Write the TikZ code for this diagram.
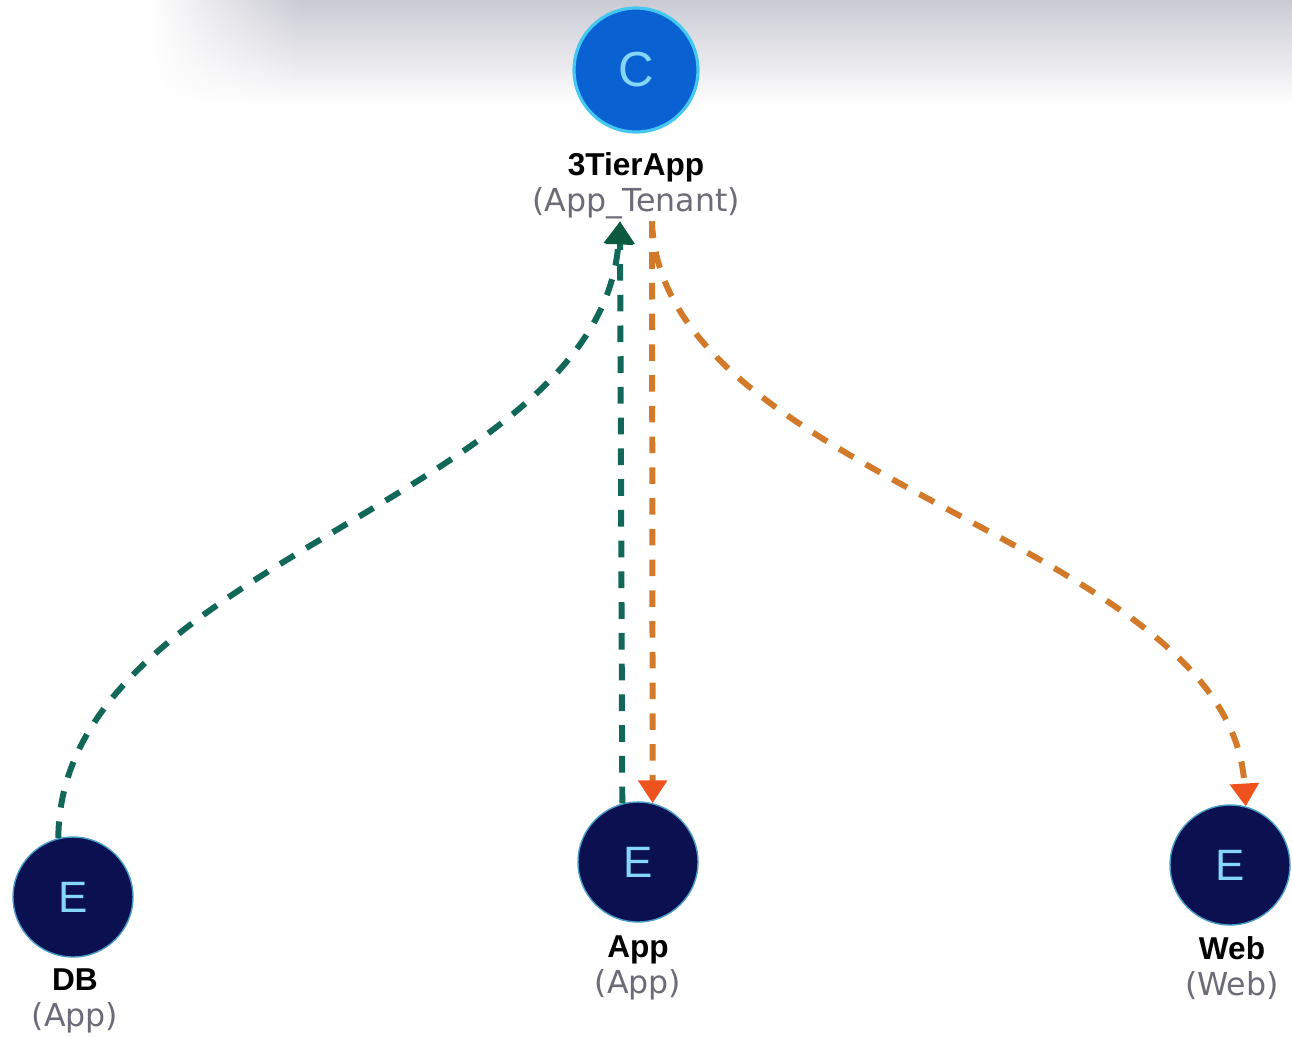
\documentclass[tikz,border=0pt]{standalone}
\usepackage{fontspec}
\setmainfont{Liberation Sans}
\newfontfamily\subfont{DejaVu Sans}
\usetikzlibrary{arrows.meta,fadings}
\definecolor{bandgray}{HTML}{CACAD4}
\definecolor{cblue}{HTML}{0A62D2}
\definecolor{cglow}{HTML}{44C8F2}
\definecolor{enavy}{HTML}{0B1050}
\definecolor{eglow}{HTML}{4A9CC8}
\definecolor{letter}{HTML}{86D6F8}
\definecolor{lblgray}{HTML}{6C6C78}
\definecolor{tealline}{HTML}{126858}
\definecolor{tealtip}{HTML}{0C5A40}
\definecolor{orangeline}{HTML}{D27A2A}
\definecolor{orangetip}{HTML}{F0521E}

\begin{document}
\begin{tikzpicture}
          [x=0.02cm,y=-0.02cm,
           ctr/.style={circle,fill=cblue,draw=cglow,line width=1.8pt,minimum size=2.48cm,text=letter,font=\fontsize{28}{28}\selectfont},
           epg/.style={circle,fill=enavy,draw=eglow,line width=0.8pt,minimum size=2.4cm,text=letter,font=\fontsize{25}{25}\selectfont},
           lbl/.style={align=center,inner sep=1pt,font=\fontsize{18}{20.5}\selectfont},
           tealdash/.style={draw=tealline,line width=3.4pt,dash pattern=on 9.5pt off 8pt,-{Triangle[length=13pt,width=16pt,color=tealtip]}},
           orangedash/.style={draw=orangeline,line width=3.4pt,dash pattern=on 9.5pt off 8pt,-{Triangle[length=13pt,width=16pt,color=orangetip]}}]
          \useasboundingbox (0,0) rectangle (1292,1036);
          \fill[white] (0,0) rectangle (1292,1036);
          \shade[top color=bandgray,bottom color=white] (150,0) rectangle (1292,105);
          \fill[white,path fading=east] (150,0) rectangle (300,105);

          \node[ctr] (cTier) at (636,70) {C};
          \node[lbl] (tierLbl) at (636,186) {\textbf{3TierApp}\\\textcolor{lblgray}{\subfont (App\_Tenant)}};

          \node[epg] (eDB) at (73,897) {E};
          \node[lbl] (dbLbl) at (75,1001) {\textbf{DB}\\\textcolor{lblgray}{\subfont (App)}};
          \node[epg] (eApp) at (638,862) {E};
          \node[lbl] (appLbl) at (638,968) {\textbf{App}\\\textcolor{lblgray}{\subfont (App)}};
          \node[epg] (eWeb) at (1230,865) {E};
          \node[lbl] (webLbl) at (1232,968) {\textbf{Web}\\\textcolor{lblgray}{\subfont (Web)}};

          \draw[tealdash] (eDB.104) .. controls (60,560) and (600,500) .. ([xshift=-0.32cm]tierLbl.south);
          \draw[tealdash] (eApp.105.5) -- ([xshift=-0.32cm]tierLbl.south);
          \draw[orangedash] ([xshift=0.32cm]tierLbl.south) -- (eApp.76.5);
          \draw[orangedash] ([xshift=0.32cm]tierLbl.south) .. controls (660,480) and (1230,540) .. (eWeb.75.5);

        \end{tikzpicture}
\end{document}
